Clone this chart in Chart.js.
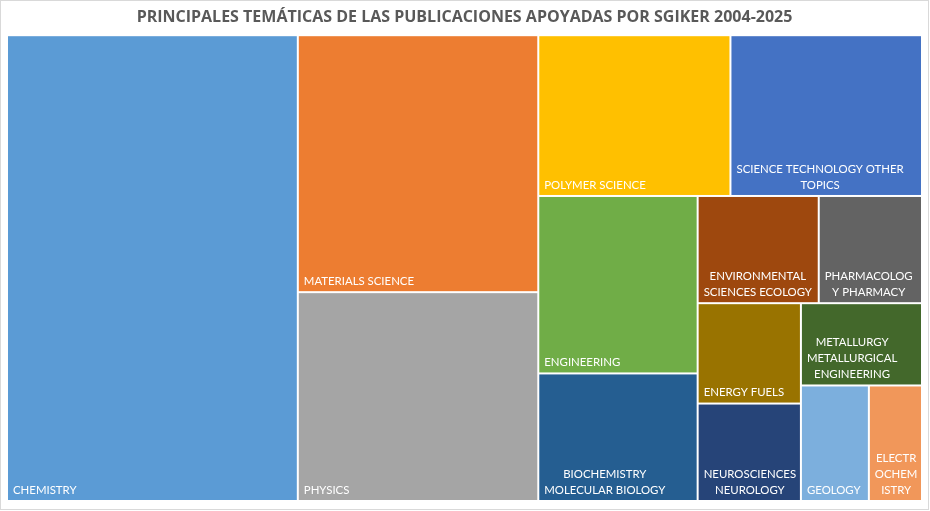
<!DOCTYPE html>
<html>
<head>
<meta charset="utf-8">
<script src="https://cdn.jsdelivr.net/npm/chart.js@4.4.1/dist/chart.umd.min.js"></script>
<style>
  html, body { margin: 0; padding: 0; background: #fff; }
  #wrap { width: 930px; height: 511px; }
</style>
</head>
<body>
<div id="wrap"><canvas id="myChart"></canvas></div>
<script>
const categories = [
    'CHEMISTRY',
    'MATERIALS SCIENCE',
    'PHYSICS',
    'POLYMER SCIENCE',
    'SCIENCE TECHNOLOGY OTHER TOPICS',
    'ENGINEERING',
    'BIOCHEMISTRY MOLECULAR BIOLOGY',
    'ENVIRONMENTAL SCIENCES ECOLOGY',
    'PHARMACOLOGY PHARMACY',
    'ENERGY FUELS',
    'NEUROSCIENCES NEUROLOGY',
    'METALLURGY METALLURGICAL ENGINEERING',
    'GEOLOGY',
    'ELECTROCHEMISTRY',
];

// publications per subject
const values = [1346, 614, 499, 307, 306, 281, 202, 129, 110, 103, 100, 99, 78, 61];

// labels as they wrap in the picture
const labelLines = [
    ['CHEMISTRY'],
    ['MATERIALS SCIENCE'],
    ['PHYSICS'],
    ['POLYMER SCIENCE'],
    ['SCIENCE TECHNOLOGY OTHER', 'TOPICS'],
    ['ENGINEERING'],
    ['BIOCHEMISTRY', 'MOLECULAR BIOLOGY'],
    ['ENVIRONMENTAL', 'SCIENCES ECOLOGY'],
    ['PHARMACOLOG', 'Y PHARMACY'],
    ['ENERGY FUELS'],
    ['NEUROSCIENCES', 'NEUROLOGY'],
    ['METALLURGY', 'METALLURGICAL', 'ENGINEERING'],
    ['GEOLOGY'],
    ['ELECTR', 'OCHEM', 'ISTRY'],
];

const colors = [
    '#5B9BD5', '#ED7D31', '#A5A5A5', '#FFC000', '#4472C4', '#70AD47', '#255E91',
    '#9E480E', '#636363', '#997300', '#264478', '#43682B', '#7CAFDD', '#F1975A',
];


function worst(row, side) {
    const s = row.reduce((a, b) => a + b, 0);
    const max = Math.max(...row), min = Math.min(...row);
    return Math.max(side * side * max / (s * s), (s * s) / (side * side * min));
}

// squarified treemap layout, in pixel units of the plot area
function squarify(vals, x, y, w, h) {
    const total = vals.reduce((a, b) => a + b, 0);
    const areas = vals.map(v => v / total * w * h);
    const out = [];
    let i = 0;
    while (i < areas.length) {
        const side = Math.min(w, h);
        let row = [areas[i]];
        let j = i + 1;
        while (j < areas.length && worst(row.concat(areas[j]), side) <= worst(row, side)) {
            row.push(areas[j]);
            j++;
        }
        const s = row.reduce((a, b) => a + b, 0);
        if (w >= h) {
            const cw = s / h;
            let cy = y;
            row.forEach(a => { out.push({ x: x, y: cy, w: cw, h: a / cw }); cy += a / cw; });
            x += cw; w -= cw;
        } else {
            const ch = s / w;
            let cx = x;
            row.forEach(a => { out.push({ x: cx, y: y, w: a / ch, h: ch }); cx += a / ch; });
            y += ch; h -= ch;
        }
        i = j;
    }
    return out;
}

const labelFont = '11.4px Lato';
const pad = 5;
const lineHeight = 16;

const treemapPlugin = {
    id: 'treemap',
    beforeDraw(chart) {
        const ctx = chart.ctx;
        ctx.save();
        ctx.strokeStyle = '#d9d9d9';
        ctx.lineWidth = 1;
        ctx.strokeRect(0.5, 0.5, chart.width - 2, chart.height - 2);
        ctx.restore();
    },
    afterDatasetsDraw(chart) {
        const { ctx, chartArea, scales } = chart;
        const w = chartArea.width, h = chartArea.height;
        const cells = squarify(values, 0, 0, w, h);
        ctx.save();
        cells.forEach((c, i) => {
            const x0 = scales.x.getPixelForValue(c.x / w) + 1;
            const x1 = scales.x.getPixelForValue((c.x + c.w) / w) - 1;
            const y0 = scales.y.getPixelForValue(c.y / h) + 1;
            const y1 = scales.y.getPixelForValue((c.y + c.h) / h) - 1;
            ctx.fillStyle = colors[i];
            ctx.fillRect(x0, y0, x1 - x0, y1 - y0);

            const lines = labelLines[i];
            ctx.font = labelFont;
            ctx.fillStyle = '#ffffff';
            ctx.textBaseline = 'middle';
            ctx.textAlign = 'center';
            const boxW = Math.max(...lines.map(l => ctx.measureText(l).width));
            const cx = x0 + pad + boxW / 2;
            lines.forEach((l, k) => {
                const ly = y1 - 10 - (lines.length - 1 - k) * lineHeight;
                ctx.fillText(l, cx, ly);
            });
        });
        ctx.restore();
    }
};

const config = {
    type: 'scatter',
    data: { datasets: [] },
    options: {
        responsive: true,
        maintainAspectRatio: false,
        animation: false,
        layout: { padding: { left: 7, right: 8, top: 0, bottom: 10 } },
        scales: {
            x: { type: 'linear', min: 0, max: 1, display: false },
            y: { type: 'linear', min: 0, max: 1, reverse: true, display: false },
        },
        plugins: {
            legend: { display: false },
            tooltip: { enabled: false },
            title: {
                display: true,
                text: 'PRINCIPALES TEMÁTICAS DE LAS PUBLICACIONES APOYADAS POR SGIKER 2004-2025',
                color: '#595959',
                font: { family: 'Open Sans', size: 16, weight: 'bold', lineHeight: 1.2 },
                padding: { top: 8, bottom: 8 },
            },
        },
    },
    plugins: [treemapPlugin],
};

const myChart = new Chart(document.getElementById('myChart'), config);
</script>
</body>
</html>
